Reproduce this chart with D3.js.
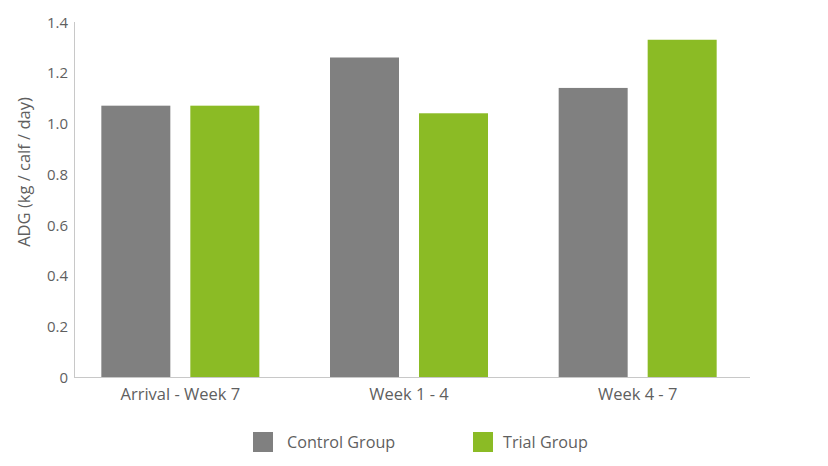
<!DOCTYPE html>
<html>
<head>
<meta charset="utf-8">
<script src="https://cdn.jsdelivr.net/npm/d3@7"></script>
<style>
  html, body { margin: 0; padding: 0; background: #fff; }
  svg { display: block; font-family: "Open Sans", sans-serif; }
</style>
</head>
<body>
<svg id="chart" width="828" height="466"></svg>
<script>
const categories = ["Arrival - Week 7", "Week 1 - 4", "Week 4 - 7"];
const seriesNames = ["Control Group", "Trial Group"];
const controlValues = [1.07, 1.26, 1.14];
const trialValues = [1.07, 1.04, 1.33];
const yTicks = [0, 0.2, 0.4, 0.6, 0.8, 1.0, 1.2, 1.4];
const yTickLabels = ["0", "0.2", "0.4", "0.6", "0.8", "1.0", "1.2", "1.4"];
const yLabel = "ADG (kg / calf / day)";
const colors = ["#808080", "#8bbb25"];

const seriesValues = [controlValues, trialValues];
const data = categories.map((c, i) => ({
  category: c,
  values: seriesNames.map((s, j) => ({ series: s, value: seriesValues[j][i] }))
}));

const svg = d3.select("#chart");
const axisLeftX = 74, axisRightX = 750;
const y = d3.scaleLinear().domain([0, 1.4]).range([377, 22]);
const x = d3.scaleBand().domain(categories).range([66, 752]);
const xSub = d3.scaleBand().domain(seriesNames).range([-79, 79]).paddingInner(20 / 89);
const color = d3.scaleOrdinal().domain(seriesNames).range(colors);
const textColor = "#5f5f5f";
const lineColor = "#c8c8c8";

// bars
const g = svg.append("g");
data.forEach(d => {
  const cx = x(d.category) + x.bandwidth() / 2;
  g.selectAll(null).data(d.values).enter().append("rect")
    .attr("x", v => cx + xSub(v.series))
    .attr("width", xSub.bandwidth())
    .attr("y", v => y(v.value))
    .attr("height", v => y(0) - y(v.value))
    .attr("fill", v => color(v.series));
});

// y axis
const yAxis = d3.axisLeft(y).tickValues(yTicks)
  .tickFormat((d, i) => yTickLabels[i]).tickSize(0).tickPadding(6);
const yg = svg.append("g").attr("transform", `translate(${axisLeftX},0)`).call(yAxis);
yg.select(".domain").attr("stroke", lineColor).attr("d", `M0.5,${y(1.4)}V${y(0)}`);
yg.selectAll("text").attr("fill", textColor).style("font-size", "15px")
  .style("font-family", "'Open Sans', sans-serif").attr("dy", "0.35em");

// x axis
const xAxis = d3.axisBottom(x).tickSize(0).tickPadding(11);
const xg = svg.append("g").attr("transform", `translate(0,${y(0)})`).call(xAxis);
xg.select(".domain").attr("stroke", lineColor).attr("d", `M${axisLeftX},0.5H${axisRightX}`);
xg.selectAll("text").attr("fill", textColor).style("font-size", "16.5px")
  .style("font-family", "'Open Sans', sans-serif");

// y label
svg.append("text")
  .attr("transform", `translate(30,${172}) rotate(-90)`)
  .attr("text-anchor", "middle")
  .attr("fill", textColor)
  .style("font-size", "16.5px")
  .text(yLabel);

// legend
const legendX = [253, 473];
const lg = svg.append("g");
seriesNames.forEach((s, i) => {
  lg.append("rect").attr("x", legendX[i]).attr("y", 432).attr("width", 20).attr("height", 20)
    .attr("fill", color(s));
  lg.append("text").attr("x", legendX[i] + (i === 0 ? 34 : 30)).attr("y", 448)
    .attr("fill", textColor).style("font-size", "16.2px").text(s);
});
</script>
</body>
</html>
